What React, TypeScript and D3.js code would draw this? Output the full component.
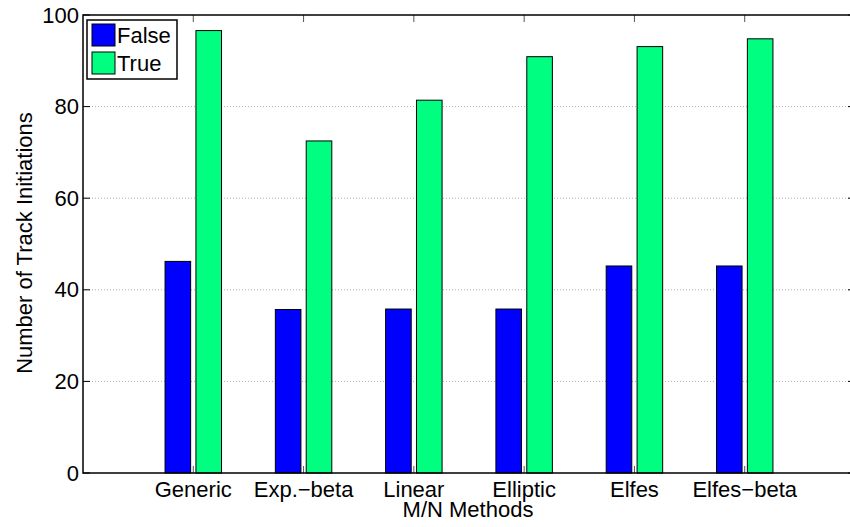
import React from "react";
import * as d3 from "d3";

const categories = ["Generic", "Exp.\u2212beta", "Linear", "Elliptic", "Elfes", "Elfes\u2212beta"];
const falseValues = [46.2, 35.7, 35.8, 35.8, 45.2, 45.2];
const trueValues = [96.6, 72.5, 81.4, 90.9, 93.1, 94.8];
const seriesNames = ["False", "True"];
const seriesColors = ["#0000ff", "#00ff80"];
const yTicks = [0, 20, 40, 60, 80, 100];

const W = 850;
const H = 527;
const left = 83;
const right = 855;
const top = 15;
const bottom = 473;
const FONT = "'Liberation Sans', Arial, Helvetica, sans-serif";
const FS = 22;

export default function App() {
  const x = d3.scaleLinear().domain([0, categories.length + 1]).range([left, right]);
  const y = d3.scaleLinear().domain([0, 100]).range([bottom, top]);
  const unit = x(1) - x(0);
  const barW = unit * 0.232;
  const offset = unit * 0.14;
  const series = [falseValues, trueValues];

  return (
    <div style={{ position: "fixed", left: 0, top: 0 }}>
      <svg width={W} height={H} style={{ display: "block", background: "#fff" }} fontFamily={FONT}>
        <rect x={0} y={0} width={W} height={H} fill="#fff" />
        {/* dotted horizontal grid */}
        {yTicks.filter((t) => t > 0 && t < 100).map((t) => (
          <line key={"g" + t} x1={left} x2={right} y1={y(t)} y2={y(t)} stroke="#b0b0b0" strokeWidth={1} strokeDasharray="1,2" />
        ))}
        {/* bars */}
        {series.map((vals, si) =>
          vals.map((v, i) => {
            const cx = x(i + 1) + (si === 0 ? -offset : offset);
            return (
              <rect
                key={si + "-" + i}
                x={cx - barW / 2}
                y={y(v)}
                width={barW}
                height={y(0) - y(v)}
                fill={seriesColors[si]}
                stroke="#000"
                strokeWidth={1}
              />
            );
          })
        )}
        {/* category ticks */}
        {categories.map((c, i) => (
          <g key={"xt" + i}>
            <line x1={x(i + 1)} x2={x(i + 1)} y1={bottom} y2={bottom - 7} stroke="#555" strokeWidth={1} />
            <line x1={x(i + 1)} x2={x(i + 1)} y1={top} y2={top + 7} stroke="#555" strokeWidth={1} />
            <text x={x(i + 1)} y={497} textAnchor="middle" fontSize={FS} fill="#000">
              {c}
            </text>
          </g>
        ))}
        {/* y ticks */}
        {yTicks.map((t) => (
          <g key={"yt" + t}>
            <line x1={left} x2={left + 7} y1={y(t)} y2={y(t)} stroke="#000" strokeWidth={1} />
            <line x1={right - 7} x2={right} y1={y(t)} y2={y(t)} stroke="#000" strokeWidth={1} />
            <text x={left - 4} y={y(t) + 7.5} textAnchor="end" fontSize={FS} fill="#000">
              {t}
            </text>
          </g>
        ))}
        {/* axes box */}
        <rect x={left} y={top} width={right - left} height={bottom - top} fill="none" stroke="#000" strokeWidth={1.5} />
        {/* axis labels */}
        <text x={468} y={517} textAnchor="middle" fontSize={FS} fill="#000">
          M/N Methods
        </text>
        <text
          transform={`translate(32, ${(top + bottom) / 2 - 1}) rotate(-90)`}
          textAnchor="middle"
          fontSize={FS}
          fill="#000"
        >
          Number of Track Initiations
        </text>
        {/* legend */}
        <g>
          <rect x={87} y={20} width={90} height={59} fill="#fff" stroke="#000" strokeWidth={1.5} />
          {seriesNames.map((s, i) => (
            <g key={s}>
              <rect x={92} y={24 + i * 28} width={23} height={22} fill={seriesColors[i]} stroke="#000" strokeWidth={1} />
              <text x={117} y={43 + i * 28} fontSize={FS} fill="#000">
                {s}
              </text>
            </g>
          ))}
        </g>
      </svg>
    </div>
  );
}
